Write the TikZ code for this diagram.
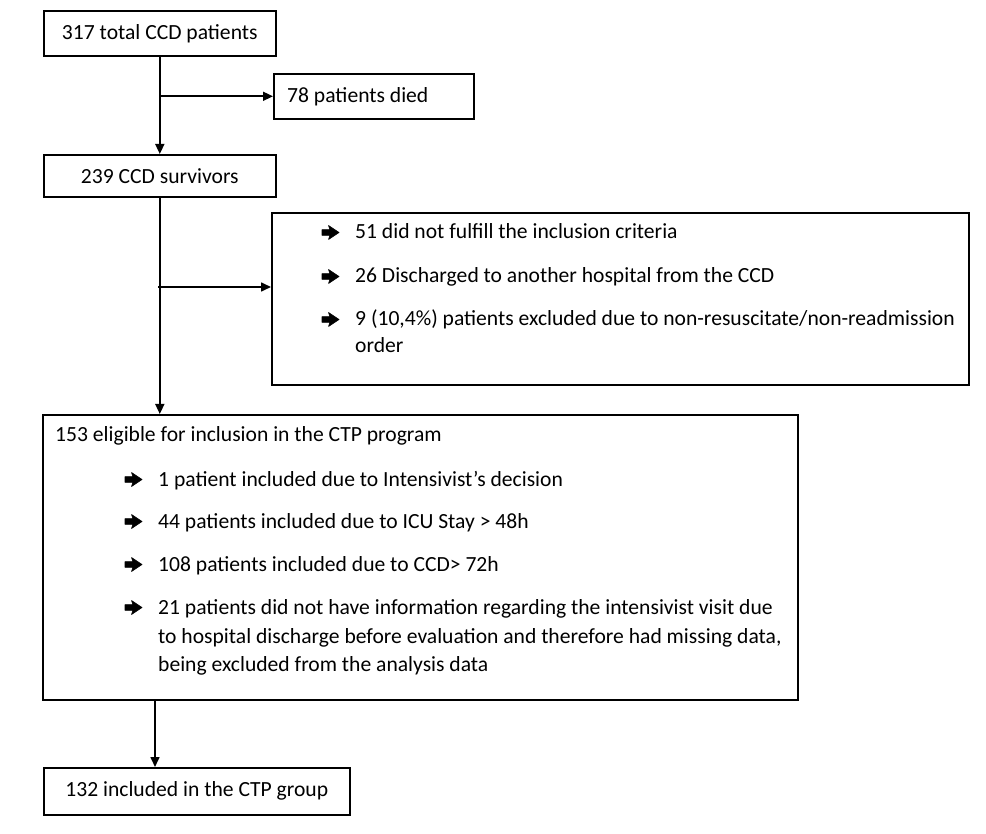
\documentclass[tikz,border=0pt]{standalone}
\usepackage{fontspec}
\setmainfont{Carlito}
\usetikzlibrary{arrows.meta}
\begin{document}
\begin{tikzpicture}[x=1pt,y=-1pt,
  box/.style={draw, line width=1.6pt, inner sep=0pt, fill=white},
  txt/.style={inner sep=0pt, anchor=base west, font=\fontsize{21.6}{26}\selectfont},
  ctxt/.style={font=\fontsize{21.6}{26}\selectfont},
  bulletarrow/.pic={\fill[black, line join=round, draw, line width=0.6pt] (0,-2.8) -- (8,-2.8) -- (6.5,-7) -- (17,0) -- (6.5,7) -- (8,2.8) -- (0,2.8) -- cycle;},
  conn/.style={line width=1.6pt},
  arr/.style={conn, -{Triangle[length=10pt,width=9pt]}}]
\useasboundingbox (0,0) rectangle (986,834);
% boxes
\node[box, ctxt, minimum width=232pt, minimum height=45pt, anchor=north west] (b1) at (43,10) {317 total CCD patients};
\node[box, minimum width=200pt, minimum height=45pt, anchor=north west] (b2) at (273,73) {};
\node[txt] (t2) at (287,103) {78 patients died};
\node[box, ctxt, minimum width=232pt, minimum height=42pt, anchor=north west] (b3) at (43,154) {239 CCD survivors};
\node[box, minimum width=697pt, minimum height=172pt, anchor=north west] (b4) at (271,212) {};
\node[box, minimum width=755pt, minimum height=285pt, anchor=north west] (b5) at (42,414) {};
\node[box, ctxt, minimum width=306pt, minimum height=47pt, anchor=north west] (b6) at (43,767) {132 included in the CTP group};
% box 4 contents
\pic at (322,232.5) {bulletarrow};
\node[txt] (l41) at (355,239) {51 did not fulfill the inclusion criteria};
\pic at (322,276.5) {bulletarrow};
\node[txt] (l42) at (355,283) {26 Discharged to another hospital from the CCD};
\pic at (322,319.5) {bulletarrow};
\node[txt] (l43) at (355,326) {9 (10,4\%) patients excluded due to non-resuscitate/non-readmission};
\node[txt] (l44) at (355,353) {order};
% box 5 contents
\node[txt] (l50) at (55,442) {153 eligible for inclusion in the CTP program};
\pic at (125,479.5) {bulletarrow};
\node[txt] (l51) at (158,486) {1 patient included due to Intensivist’s decision};
\pic at (125,521.5) {bulletarrow};
\node[txt] (l52) at (158,528) {44 patients included due to ICU Stay > 48h};
\pic at (125,564.5) {bulletarrow};
\node[txt] (l53) at (158,571) {108 patients included due to CCD> 72h};
\pic at (125,607.5) {bulletarrow};
\node[txt] (l54) at (158,614) {21 patients did not have information regarding the intensivist visit due};
\node[txt] (l55) at (158,643) {to hospital discharge before evaluation and therefore had missing data,};
\node[txt] (l56) at (158,671) {being excluded from the analysis data};
% connectors
\draw[arr] (b1.south) -- (b3.north);
\draw[arr] (b1.south |- b2.west) -- (b2.west);
\coordinate (j2) at (158,287);
\draw[arr] (b3.south) -- (b3.south |- b5.north);
\draw[arr] (j2) -- (j2 -| b4.west);
\coordinate (j3) at (155,0);
\draw[arr] (j3 |- b5.south) -- (j3 |- b6.north);
\end{tikzpicture}
\end{document}
